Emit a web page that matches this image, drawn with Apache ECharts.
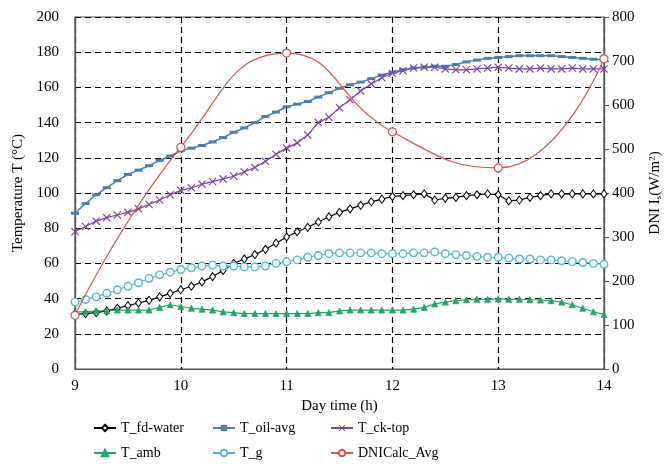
<!DOCTYPE html>
<html><head><meta charset="utf-8">
<script src="https://cdn.jsdelivr.net/npm/echarts@6/dist/echarts.min.js"></script>
<style>html,body{margin:0;padding:0;background:#fff}#c{width:671px;height:464px}</style>
</head><body><div id="c"></div>
<script>
const times = [9.0,9.1,9.2,9.3,9.4,9.5,9.6,9.7,9.8,9.9,10.0,10.1,10.2,10.3,10.4,10.5,10.6,10.7,10.8,10.9,11.0,11.1,11.2,11.3,11.4,11.5,11.6,11.7,11.8,11.9,12.0,12.1,12.2,12.3,12.4,12.5,12.6,12.7,12.8,12.9,13.0,13.1,13.2,13.3,13.4,13.5,13.6,13.7,13.8,13.9,14.0];
const tFdWater = [31,31.5,32,33,34.5,36,37.5,39,41,43,45,47,49.5,52.5,56,60,62.5,65,68,71.5,75,78,80.5,83.5,86.5,89,91,93,95,96.5,98,98.5,99,99.5,96,97,97.5,98.5,99,99.5,99,95.5,96,97.5,98.5,99.5,99.5,99.5,99.5,99.5,99.5];
const tOilAvg = [88.5,94,99,103,107,110.5,113,115.5,118.5,121,124,125.5,127,129,131.5,134.5,137,140,143.5,146,149,150.5,152,154.5,157,159.5,161.5,163,165,167,168.5,170,171,171.5,172,172,173,174.5,175.5,176.5,177,177.5,178,178,178,178,177.5,177,176.5,176,175.5];
const tCkTop = [78,81,84,86,87.5,89,91,93.5,96,99,101.5,103,105,106.5,108,109.5,112,114.5,118,122,125.5,128.5,133,140,143,148.5,153,158,162,165.5,168,169.5,171,171.5,171.5,170.5,170,170,170.5,171,171.5,171,170.5,170.5,171,170.5,170.5,171,170.5,170.5,170.5];
const tAmb = [32.5,32.5,33,33,33.5,33.5,33.5,33.5,35,36.5,35.5,34.5,34,33.5,32.5,32,31.5,31.5,31.5,31.5,31.5,31.5,31.5,32,32,33,33.5,33.5,33.5,33.5,33.5,33.5,34,35,37,38,38.8,39.3,39.6,39.6,39.8,39.6,39.6,39.5,39.2,38.8,38,36.5,34.5,32.5,31];
const tG = [38,39.5,41,43,45,47,49,51.5,53.5,55,56.5,57.5,58.5,59,58.5,58.5,58,58,58.5,60,61,62,63.5,64.5,65.5,66,66,66,66,65.5,65.5,65.5,66,66,66.5,65.5,65,64.5,64,63.5,63.5,63,62.5,62.5,62,62,61.5,61,60.5,60,59.5];
const dniTimes = [9,10,11,12,13,14];
const dniValues = [122,504,718,539,457,705];
const leftTicks = [0,20,40,60,80,100,120,140,160,180,200];
const rightTicks = [0,100,200,300,400,500,600,700,800];

const pair = (xs, ys) => xs.map((x, i) => [x, ys[i]]);
const FONT = '"Liberation Serif", "Times New Roman", serif';
const X_PATH = 'path://M0,1L1,0L5,4L9,0L10,1L6,5L10,9L9,10L5,6L1,10L0,9L4,5Z';

const chart = echarts.init(document.getElementById('c'), null, {renderer: 'canvas'});
const legendText = {fontFamily: FONT, fontSize: 14, color: '#000'};
const mkLegend = (left, names) => ({
  orient: 'vertical', left: left, top: 421, itemWidth: 22, itemHeight: 8, itemGap: 11,
  textStyle: legendText, data: names, selectedMode: false, padding: 0
});
chart.setOption({
  animation: false,
  backgroundColor: '#fff',
  grid: {left: 75, right: 65, top: 17, bottom: 95, show: true, borderColor: '#555', borderWidth: 1.2},
  legend: [
    mkLegend(93, ['T_fd-water', 'T_amb']),
    mkLegend(212, ['T_oil-avg', 'T_g']),
    mkLegend(330, ['T_ck-top', 'DNICalc_Avg'])
  ],
  xAxis: {
    type: 'value', min: 9, max: 14, interval: 1,
    name: 'Day time (h)', nameLocation: 'middle', nameGap: 28,
    nameTextStyle: {fontFamily: FONT, fontSize: 15, color: '#000'},
    axisLine: {show: true, lineStyle: {color: '#555', width: 1.2}},
    axisTick: {show: false},
    axisLabel: {fontFamily: FONT, fontSize: 15, color: '#000', margin: 10},
    splitLine: {show: true, lineStyle: {color: '#000', type: [6, 4], width: 1.2}}
  },
  yAxis: [
    {
      type: 'value', min: 0, max: 200, interval: 20, position: 'left',
      name: 'Temperature T (°C)', nameLocation: 'middle', nameGap: 46, nameRotate: 90,
      nameTextStyle: {fontFamily: FONT, fontSize: 15, color: '#000'},
      axisLine: {show: true, lineStyle: {color: '#555', width: 1.2}},
      axisTick: {show: false},
      axisLabel: {fontFamily: FONT, fontSize: 15, color: '#000', margin: 16,
        customValues: leftTicks},
      splitLine: {show: true, lineStyle: {color: '#000', type: [6, 4], width: 1.2}}
    },
    {
      type: 'value', min: 0, max: 800, interval: 100, position: 'right',
      name: 'DNI I{sub|s}(W/m{sup|2})', nameLocation: 'middle', nameGap: 44, nameRotate: 90,
      nameTextStyle: {fontFamily: FONT, fontSize: 15, color: '#000',
        rich: {sub: {fontFamily: FONT, fontSize: 9, color: '#000', verticalAlign: 'bottom', padding: [6, 0, 0, 0]},
               sup: {fontFamily: FONT, fontSize: 9, color: '#000', verticalAlign: 'top', padding: [0, 0, 6, 0]}}},
      axisLine: {show: true, lineStyle: {color: '#555', width: 1.2}},
      axisTick: {show: true, inside: false, length: 5, lineStyle: {color: '#555'}},
      axisLabel: {fontFamily: FONT, fontSize: 15, color: '#000', margin: 8, customValues: rightTicks},
      splitLine: {show: false}
    }
  ],
  series: [
    {name: 'T_fd-water', type: 'line', yAxisIndex: 0, data: pair(times, tFdWater),
      symbol: 'diamond', symbolSize: [6, 8], showAllSymbol: true,
      lineStyle: {color: '#000', width: 1.2},
      itemStyle: {color: '#fff', borderColor: '#000', borderWidth: 1}},
    {name: 'T_oil-avg', type: 'line', yAxisIndex: 0, data: pair(times, tOilAvg),
      symbol: 'rect', symbolSize: [8, 3], showAllSymbol: true,
      lineStyle: {color: '#4a7fb3', width: 1.5},
      itemStyle: {color: '#4a7fb3', borderColor: '#4a7fb3', borderWidth: 0}},
    {name: 'T_ck-top', type: 'line', yAxisIndex: 0, data: pair(times, tCkTop),
      symbol: X_PATH, symbolSize: 8, showAllSymbol: true,
      lineStyle: {color: '#7a44a6', width: 1.2},
      itemStyle: {color: '#7a44a6', borderWidth: 0}},
    {name: 'T_amb', type: 'line', yAxisIndex: 0, data: pair(times, tAmb),
      symbol: 'triangle', symbolSize: 6, showAllSymbol: true,
      lineStyle: {color: '#25a562', width: 1.2},
      itemStyle: {color: '#25a562', borderColor: '#25a562', borderWidth: 0.8}},
    {name: 'T_g', type: 'line', yAxisIndex: 0, data: pair(times, tG),
      symbol: 'circle', symbolSize: 7.5, showAllSymbol: true,
      lineStyle: {color: '#5ab6d3', width: 1.2},
      itemStyle: {color: '#fff', borderColor: '#5ab6d3', borderWidth: 1.4}},
    {name: 'DNICalc_Avg', type: 'line', yAxisIndex: 1, data: pair(dniTimes, dniValues),
      smooth: 0.5, symbol: 'circle', symbolSize: 8,
      lineStyle: {color: '#d9534f', width: 1.2},
      itemStyle: {color: '#fff', borderColor: '#d9534f', borderWidth: 1.2}, z: 5}
  ]
});
</script></body></html>
